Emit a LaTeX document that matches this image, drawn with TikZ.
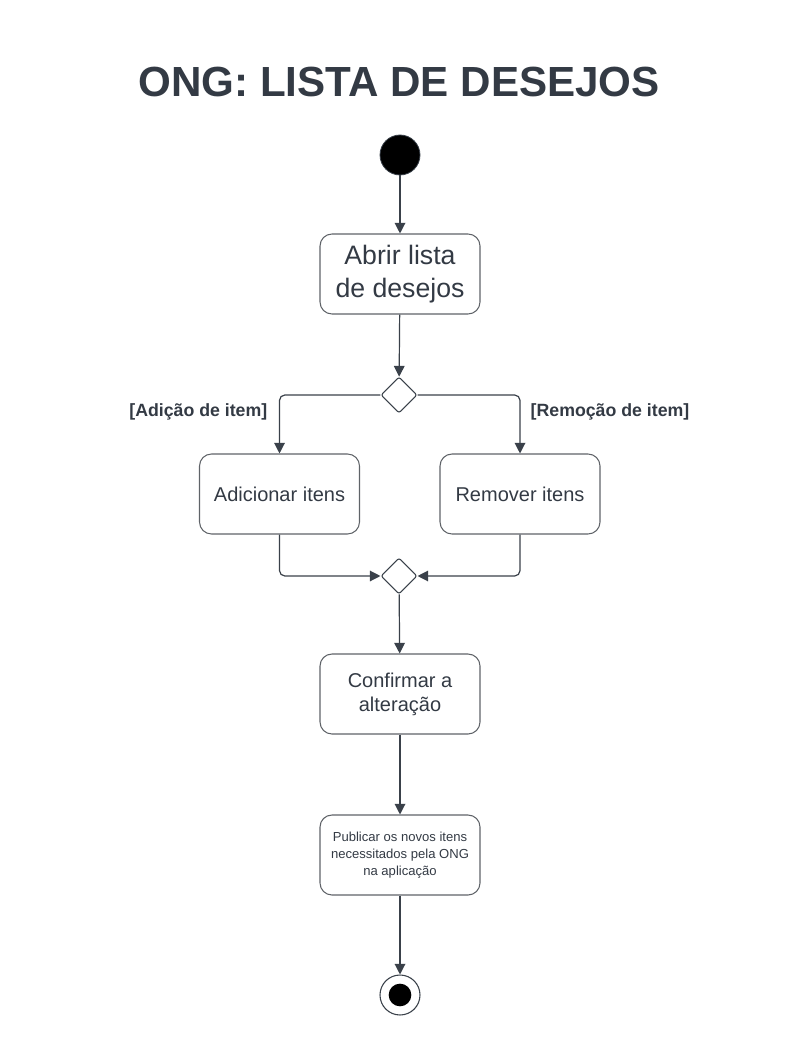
\documentclass[tikz,border=0pt]{standalone}
\usepackage{fontspec}
\setmainfont{Liberation Sans}
\usetikzlibrary{arrows.meta,shapes.geometric}
\definecolor{linec}{HTML}{3A414A}
\definecolor{boxc}{HTML}{5F6368}
\definecolor{textc}{HTML}{333A44}
\begin{document}
\begin{tikzpicture}[x=0.75pt,y=-0.75pt,
  act/.style={draw=boxc, line width=0.8pt, rounded corners=9pt, minimum width=120pt, minimum height=60pt, align=center, text=textc, inner sep=0pt},
  dec/.style={diamond, draw=linec, line width=0.8pt, rounded corners=1.5pt, minimum width=27pt, minimum height=27pt, inner sep=0pt, fill=white},
  arr/.style={draw=linec, line width=0.9pt, -{Triangle[length=8pt,width=8pt]}, rounded corners=4pt},
  lab/.style={text=textc, font=\bfseries\fontsize{13.3}{16}\selectfont}]
\useasboundingbox (0,0) rectangle (798,1055);
\node[text=textc, font=\bfseries\fontsize{31.6}{36}\selectfont] (title) at (399,82) {ONG: LISTA DE DESEJOS};
\node[circle, fill=black, draw=linec, line width=0.6pt, minimum size=30pt, inner sep=0pt] (start) at (400,155) {};
\node[act, font=\fontsize{20}{24.5}\selectfont] (b1) at (400,274) {Abrir lista\\de desejos};
\node[dec] (d1) at (399,395) {};
\node[act, font=\fontsize{15}{18}\selectfont] (b2) at (279.5,494) {Adicionar itens};
\node[act, font=\fontsize{15}{18}\selectfont] (b3) at (520,494) {Remover itens};
\node[dec] (d2) at (399,576) {};
\node[act, font=\fontsize{15}{18}\selectfont] (b4) at (400,694) {Confirmar a\\alteração};
\node[act, font=\fontsize{9.8}{12.75}\selectfont] (b5) at (400,855) {Publicar os novos itens\\necessitados pela ONG\\na aplicação};
\node[circle, draw=linec, line width=0.8pt, fill=white, minimum size=30pt, inner sep=0pt] (end) at (400,995) {};
\node[circle, fill=black, minimum size=17pt, inner sep=0pt] (endin) at (end.center) {};
\node[lab, anchor=east] (l1) at (272,412) {[Adição de item]};
\node[lab, anchor=west] (l2) at (526,412) {[Remoção de item]};
\draw[arr] (start) -- (b1);
\draw[arr] (b1) -- (d1);
\draw[arr] (d1.west) -| (b2.north);
\draw[arr] (d1.east) -| (b3.north);
\draw[arr] (b2.south) |- (d2.west);
\draw[arr] (b3.south) |- (d2.east);
\draw[arr] (d2) -- (b4);
\draw[arr] (b4) -- (b5);
\draw[arr] (b5) -- (end);
\end{tikzpicture}
\end{document}
